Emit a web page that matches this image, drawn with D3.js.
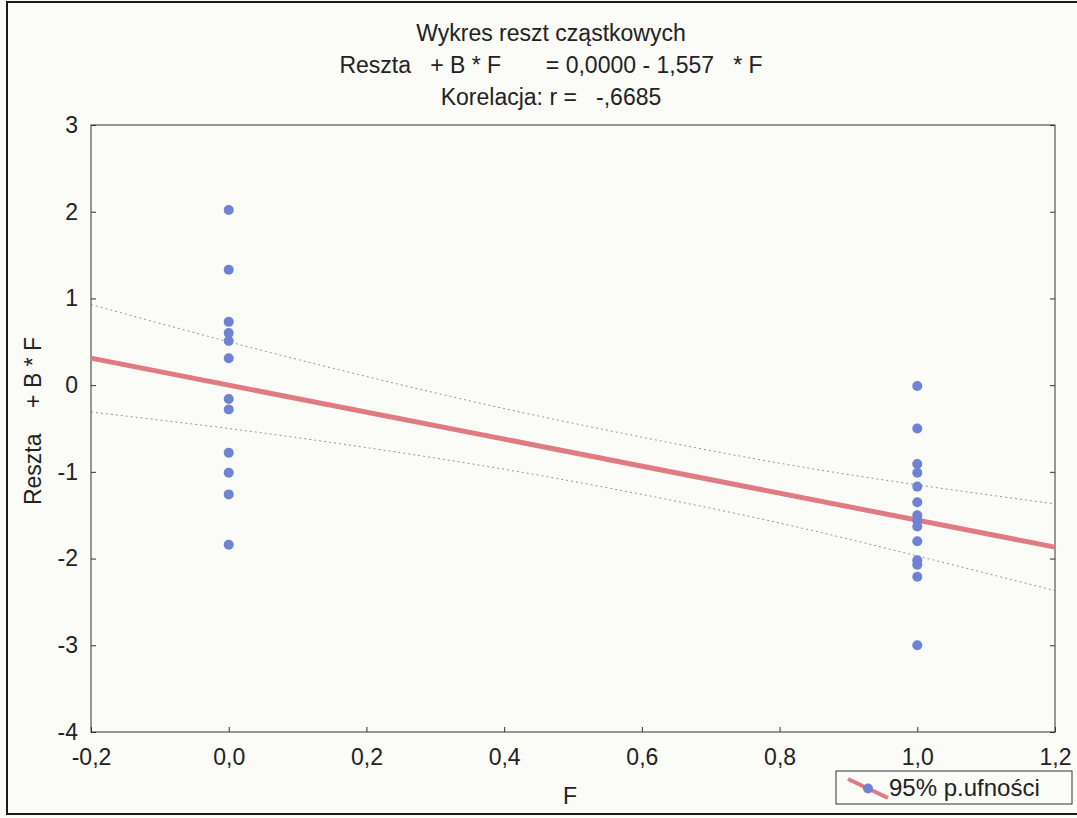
<!DOCTYPE html>
<html>
<head>
<meta charset="utf-8">
<script src="https://cdn.jsdelivr.net/npm/d3@7"></script>
<style>
  body { margin: 0; background: #fbfbf8; }
  svg { display: block; font-family: "Liberation Sans", Arial, sans-serif; }
  text { white-space: pre; }
</style>
</head>
<body>
<svg width="1077" height="818"></svg>
<script>
// residual values at F = 0 and F = 1
const residF0 = [2.02, 1.33, 0.73, 0.6, 0.51, 0.31, -0.16, -0.28, -0.78, -1.01, -1.26, -1.84];
const residF1 = [-0.01, -0.5, -0.91, -1.01, -1.17, -1.35, -1.5, -1.56, -1.63, -1.8, -2.02, -2.07, -2.21, -3.0];

// fitted line: 0,0000 - 1,557 * F
const intercept = 0.0;
const slope = -1.557;

// 95% confidence band
const bandX = [-0.2, 0, 0.2, 0.4, 0.6, 0.8, 1.0, 1.2];
const bandUpper = [0.93, 0.5, 0.1, -0.27, -0.6, -0.9, -1.15, -1.37];
const bandLower = [-0.31, -0.5, -0.72, -0.97, -1.26, -1.59, -1.97, -2.37];

const xTicks = [-0.2, 0, 0.2, 0.4, 0.6, 0.8, 1.0, 1.2];
const yTicks = [3, 2, 1, 0, -1, -2, -3, -4];

const titleLines = [
  "Wykres reszt cząstkowych",
  "Reszta   + B * F       = 0,0000 - 1,557   * F",
  "Korelacja: r =   -,6685"
];
const xLabel = "F";
const yLabel = "Reszta    + B * F";
const legendLabel = "95% p.ufności";

const svg = d3.select("svg");

const x = d3.scaleLinear().domain([-0.2, 1.2]).range([91, 1055]);
const y = d3.scaleLinear().domain([-4, 3]).range([732, 125]);

const comma = (v, digits) => v.toFixed(digits).replace(".", ",");

// outer frame
svg.append("rect")
  .attr("x", 7).attr("y", 2).attr("width", 1080).attr("height", 812)
  .attr("fill", "none").attr("stroke", "#1a1a1a").attr("stroke-width", 2);

// titles
svg.selectAll("text.title")
  .data(titleLines)
  .join("text")
  .attr("class", "title")
  .attr("x", 551)
  .attr("y", (d, i) => 41 + i * 32)
  .attr("text-anchor", "middle")
  .attr("font-size", 23)
  .attr("fill", "#222")
  .text(d => d);

// axes with inward ticks
const xAxis = svg.append("g")
  .attr("transform", "translate(0,732)")
  .call(d3.axisBottom(x).tickValues(xTicks).tickSizeInner(-5).tickSizeOuter(0)
    .tickPadding(17).tickFormat(d => comma(d, 1)));

const yAxis = svg.append("g")
  .attr("transform", "translate(91,0)")
  .call(d3.axisLeft(y).tickValues(yTicks).tickSizeInner(-5).tickSizeOuter(0)
    .tickPadding(13).tickFormat(d => d));

const yAxisRight = svg.append("g")
  .attr("transform", "translate(1055,0)")
  .call(d3.axisRight(y).tickValues(yTicks).tickSizeInner(-5).tickSizeOuter(0)
    .tickFormat(""));

[xAxis, yAxis, yAxisRight].forEach(g => {
  g.select(".domain").remove();
  g.attr("font-size", 23).attr("font-family", "Liberation Sans, Arial, sans-serif");
  g.selectAll("line").attr("stroke", "#333");
  g.selectAll("text").attr("fill", "#222");
});

// plot frame
svg.append("rect")
  .attr("x", x(-0.2)).attr("y", y(3))
  .attr("width", x(1.2) - x(-0.2)).attr("height", y(-4) - y(3))
  .attr("fill", "none").attr("stroke", "#333").attr("stroke-width", 1);

// confidence band
const bandLine = d3.line().curve(d3.curveNatural).x(d => x(d[0])).y(d => y(d[1]));
[bandUpper, bandLower].forEach(vals => {
  svg.append("path")
    .datum(bandX.map((v, i) => [v, vals[i]]))
    .attr("d", bandLine)
    .attr("fill", "none")
    .attr("stroke", "#8a8a8a")
    .attr("stroke-width", 0.9)
    .attr("stroke-dasharray", "2,3");
});

// fitted line
svg.append("line")
  .attr("x1", x(-0.2)).attr("y1", y(intercept + slope * -0.2))
  .attr("x2", x(1.2)).attr("y2", y(intercept + slope * 1.2))
  .attr("stroke", "#e07b82")
  .attr("stroke-width", 5);

// points
const points = residF0.map(v => [0, v]).concat(residF1.map(v => [1, v]));
svg.selectAll("circle.pt")
  .data(points)
  .join("circle")
  .attr("class", "pt")
  .attr("cx", d => x(d[0]))
  .attr("cy", d => y(d[1]))
  .attr("r", 5)
  .attr("fill", "#6f82d4");

// axis labels
svg.append("text")
  .attr("x", 570).attr("y", 804)
  .attr("text-anchor", "middle")
  .attr("font-size", 23).attr("fill", "#222")
  .text(xLabel);

svg.append("text")
  .attr("transform", "translate(41,421) rotate(-90)")
  .attr("text-anchor", "middle")
  .attr("font-size", 23).attr("fill", "#222")
  .text(yLabel);

// legend
const legend = svg.append("g").attr("transform", "translate(836,771)");
legend.append("rect")
  .attr("width", 236).attr("height", 33)
  .attr("fill", "#fbfbf8").attr("stroke", "#333").attr("stroke-width", 1);
legend.append("line")
  .attr("x1", 12).attr("y1", 8).attr("x2", 52).attr("y2", 27)
  .attr("stroke", "#e07b82").attr("stroke-width", 4);
legend.append("circle")
  .attr("cx", 32).attr("cy", 17.5).attr("r", 5).attr("fill", "#6f82d4");
legend.append("text")
  .attr("x", 53).attr("y", 25)
  .attr("font-size", 24).attr("fill", "#222")
  .text(legendLabel);
</script>
</body>
</html>
